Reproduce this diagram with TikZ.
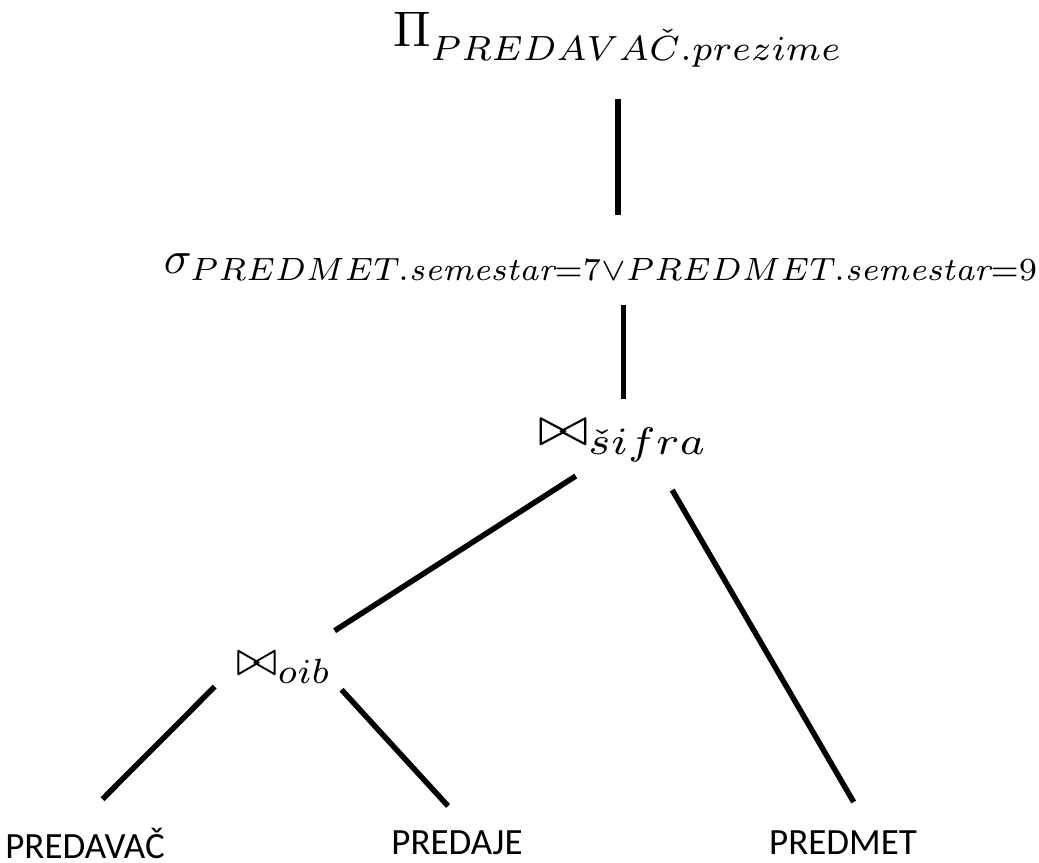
\documentclass[tikz,border=0pt]{standalone}
\usepackage{fontspec}
\usepackage{amssymb}
\usepackage{tikz}
\usetikzlibrary{positioning}
\newfontfamily\leaffont{Carlito}

\tikzset{
  op/.style={inner sep=0pt},
  rel/.style={inner sep=0pt, font=\leaffont\fontsize{7.4}{8}\selectfont},
  edge/.style={line width=1.1pt},
}

\begin{document}
\begin{tikzpicture}[x=0.2pt,y=-0.2pt]
\useasboundingbox (0,0) rectangle (1039,863);
% operators
\node[op,anchor=base west] (proj) at (392,47) {$\Pi_{PREDAVA\check{C}.prezime}$};
\node[op,anchor=base west,scale=0.92] (sel) at (163,274) {$\sigma_{PREDMET.\mathit{semestar}=7\vee PREDMET.\mathit{semestar}=9}$};
\node[op,anchor=base west,xscale=1.2,yscale=1.1] (joinS) at (537,446) {$\bowtie_{\check{s}ifra}$};
\node[op,anchor=base west] (joinO) at (235,676) {$\bowtie_{oib}$};
% relations
\node[rel] (predavac) at (85,843) {PREDAVAČ};
\node[rel] (predaje) at (457,843) {PREDAJE};
\node[rel] (predmet) at (843,843) {PREDMET};
% edges
\draw[edge, shorten <=6.2pt, shorten >=7.6pt] (proj.south) -- (proj.south |- sel.north);
\draw[edge, shorten <=4.6pt, shorten >=4pt] (sel.south -| joinS.north) -- (joinS.north);
\draw[edge, shorten <=4.9pt, shorten >=7.8pt] ([xshift=-5.4pt]joinS.south) -- ([xshift=3.6pt]joinO.north);
\draw[edge, shorten <=6.3pt, shorten >=6.5pt] ([xshift=6.6pt]joinS.south) -- ([xshift=5.4pt]predmet.north);
\draw[edge, shorten <=0.6pt, shorten >=7.8pt] ([xshift=-13.4pt]joinO.south) -- ([xshift=-2pt]predavac.north);
\draw[edge, shorten <=1.4pt, shorten >=6.5pt] ([xshift=10.6pt]joinO.south) -- ([xshift=2.6pt]predaje.north);
\end{tikzpicture}
\end{document}
